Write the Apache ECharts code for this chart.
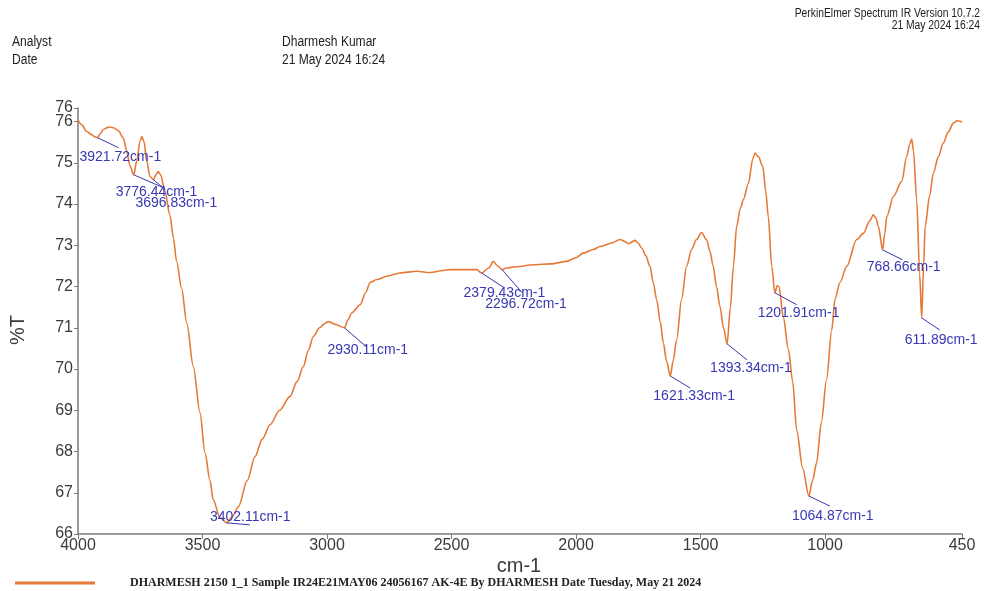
<!DOCTYPE html>
<html>
<head>
<meta charset="utf-8">
<title>IR Spectrum</title>
<script src="https://cdn.jsdelivr.net/npm/echarts@6/dist/echarts.min.js"></script>
<style>
  html, body { margin: 0; padding: 0; background: #fff; }
  #chart { width: 985px; height: 591px; }
</style>
</head>
<body>
<div id="chart"></div>
<script>
// Spectrum trace: wavenumber (cm-1) and transmittance (%T)
const wavenumbers = [
  4000, 3985, 3965, 3945, 3932, 3921.72, 3912, 3898, 3880, 3871, 3858, 3838, 3818, 3804, 3791,
  3776.44, 3764, 3751, 3744, 3735, 3724, 3711, 3696.83, 3686, 3678, 3668, 3651, 3631, 3617, 3604,
  3584, 3563, 3537, 3510, 3490, 3470, 3457, 3430, 3402.11, 3380, 3356, 3320, 3289, 3260, 3229,
  3190, 3149, 3120, 3095, 3075, 3055, 3030, 3010, 2995, 2965, 2930.11, 2915, 2901, 2867, 2845,
  2827, 2800, 2760, 2707, 2640, 2586, 2533, 2506, 2439, 2399, 2379.43, 2350, 2332, 2315, 2296.72,
  2280, 2240, 2171, 2100, 2038, 2000, 1971, 1930, 1904, 1860, 1823, 1800, 1790, 1763, 1750,
  1736, 1720, 1703, 1690, 1676, 1662, 1649, 1637, 1621.33, 1610, 1596, 1576, 1556, 1536, 1516,
  1496, 1476, 1462, 1449, 1436, 1422, 1408, 1393.34, 1380, 1368, 1355, 1340, 1328, 1308, 1290,
  1281, 1268, 1250, 1238, 1228, 1214, 1201.91, 1192, 1185, 1168, 1147, 1130, 1114, 1090, 1064.87,
  1050, 1034, 1015, 994, 973, 960, 940, 913, 873, 846, 820, 806, 795, 786, 768.66,
  760, 752, 725, 692, 672, 660, 652, 645, 632, 620, 611.89, 604, 598, 580, 565,
  545, 525, 505, 484, 470, 458, 450
];
const transmittance = [
  76.04, 75.92, 75.76, 75.68, 75.63, 75.61, 75.70, 75.81, 75.86, 75.87, 75.85, 75.78, 75.60, 75.28, 74.92,
  74.71, 75.04, 75.52, 75.64, 75.52, 75.04, 74.67, 74.59, 74.72, 74.79, 74.71, 74.31, 73.74, 73.18, 72.61,
  71.96, 71.11, 70.06, 68.94, 67.97, 67.30, 66.83, 66.40, 66.27, 66.42, 66.66, 67.30, 67.88, 68.30, 68.65,
  69.00, 69.33, 69.70, 70.06, 70.45, 70.79, 71.00, 71.10, 71.15, 71.08, 71.00, 71.20, 71.36, 71.56, 71.85,
  72.10, 72.17, 72.25, 72.33, 72.37, 72.34, 72.39, 72.41, 72.41, 72.41, 72.33, 72.45, 72.61, 72.50, 72.41,
  72.45, 72.48, 72.53, 72.55, 72.61, 72.70, 72.81, 72.90, 72.97, 73.05, 73.14, 73.08, 73.04, 73.12, 73.05,
  72.93, 72.75, 72.49, 72.10, 71.68, 71.15, 70.63, 70.20, 69.83, 70.20, 70.71, 71.70, 72.49, 72.90, 73.14,
  73.31, 73.14, 72.85, 72.49, 72.00, 71.52, 71.00, 70.61, 71.50, 72.49, 73.46, 73.90, 74.11, 74.50, 75.10,
  75.24, 75.15, 74.92, 74.30, 73.70, 72.50, 71.85, 72.02, 72.00, 71.27, 70.47, 69.70, 68.52, 67.60, 66.92,
  67.30, 67.72, 68.70, 69.74, 70.95, 71.70, 72.10, 72.49, 73.14, 73.29, 73.60, 73.74, 73.65, 73.46, 72.89,
  73.30, 73.70, 74.19, 74.55, 75.16, 75.45, 75.58, 75.30, 74.11, 72.30, 71.24, 72.50, 73.46, 74.20, 74.75,
  75.15, 75.48, 75.75, 75.97, 76.02, 76.01, 75.99
];

// Picked peaks
const peakWavenumbers = [3921.72, 3776.44, 3696.83, 3402.11, 2930.11, 2379.43, 2296.72,
  1621.33, 1393.34, 1201.91, 1064.87, 768.66, 611.89];
const peakTransmittance = [75.61, 74.71, 74.59, 66.27, 71.00, 72.33, 72.41,
  69.83, 70.61, 71.85, 66.92, 72.89, 71.24];

// Axis ticks; the %T scale runs to 76.33, whose tick is labelled "76" as well
const xTicks = [4000, 3500, 3000, 2500, 2000, 1500, 1000, 450];
const yTicks = [66, 67, 68, 69, 70, 71, 72, 73, 74, 75, 76];
const yMin = 66;
const yMax = 76.33;

const seriesName = 'DHARMESH 2150 1_1 Sample IR24E21MAY06 24056167 AK-4E By DHARMESH Date Tuesday, May 21 2024';

// Leader line end (lx, ly) and label start (tx, ty) relative to each peak, in pixels
const labelPlacement = [
  { lx: 21, ly: 10, tx: -18, ty: 19 },
  { lx: 30, ly: 13, tx: -18, ty: 17 },
  { lx: 12, ly: 10, tx: -18, ty: 23 },
  { lx: 23, ly: 2,  tx: -17, ty: -6 },
  { lx: 22, ly: 19, tx: -17, ty: 22 },
  { lx: 23, ly: 15, tx: -18, ty: 20 },
  { lx: 20, ly: 23, tx: -17, ty: 34 },
  { lx: 20, ly: 12, tx: -17, ty: 20 },
  { lx: 20, ly: 16, tx: -17, ty: 24 },
  { lx: 22, ly: 12, tx: -17, ty: 20 },
  { lx: 21, ly: 10, tx: -17, ty: 20 },
  { lx: 20, ly: 10, tx: -16, ty: 17 },
  { lx: 18, ly: 12, tx: -17, ty: 22 }
];

const traceColor = '#E57A38';
const peakColor = '#3838B4';
const axisColor = '#7a7a7a';
const textColor = '#3a3a3a';
const sansFont = '"Liberation Sans", Arial, sans-serif';

// Condensed header text (horizontally squeezed sans)
function headerText(x, y, text, size, align) {
  return {
    type: 'text',
    x: x,
    y: y,
    scaleX: 0.86,
    style: { text: text, font: size + 'px ' + sansFont, fill: '#222', align: align, verticalAlign: 'middle' }
  };
}

const yLabelStyle = {
  color: textColor,
  fontSize: 16,
  fontFamily: sansFont,
  margin: 5,
  showMinLabel: true,
  showMaxLabel: true,
  formatter: v => String(Math.round(v))
};

const chart = echarts.init(document.getElementById('chart'), null, { renderer: 'canvas' });

const option = {
  animation: false,
  backgroundColor: '#ffffff',
  grid: { left: 78, right: 23, top: 108, bottom: 57, containLabel: false },
  legend: {
    data: [seriesName],
    left: 10,
    top: 572,
    icon: 'rect',
    itemWidth: 80,
    itemHeight: 3,
    textStyle: {
      fontFamily: '"Liberation Serif", "DejaVu Serif", serif',
      fontWeight: 'bold',
      fontSize: 12,
      color: '#222',
      padding: [0, 0, 0, 30]
    }
  },
  xAxis: {
    type: 'value',
    inverse: true,
    min: 450,
    max: 4000,
    splitLine: { show: false },
    axisLine: { show: true, lineStyle: { color: axisColor, width: 1.5 } },
    axisTick: { show: true, length: 5, customValues: xTicks, lineStyle: { color: axisColor } },
    axisLabel: {
      customValues: xTicks,
      color: textColor,
      fontSize: 16,
      fontFamily: sansFont,
      margin: 4,
      showMinLabel: true,
      showMaxLabel: true,
      formatter: v => String(v)
    }
  },
  yAxis: [
    {
      type: 'value',
      min: yMin,
      max: yMax,
      splitLine: { show: false },
      axisLine: { show: true, lineStyle: { color: axisColor, width: 1.5 } },
      axisTick: { show: true, length: 4, customValues: yTicks, lineStyle: { color: axisColor } },
      axisLabel: Object.assign({ customValues: yTicks }, yLabelStyle)
    },
    {
      // end-of-scale tick and label at the top of the %T axis
      type: 'value',
      position: 'left',
      min: yMin,
      max: yMax,
      splitLine: { show: false },
      axisLine: { show: false },
      axisTick: { show: true, length: 4, customValues: [yMax], lineStyle: { color: axisColor } },
      axisLabel: Object.assign({ customValues: [yMax] }, yLabelStyle)
    }
  ],
  graphic: [
    headerText(980, 14, 'PerkinElmer Spectrum IR Version 10.7.2', 12, 'right'),
    headerText(980, 26, '21 May 2024 16:24', 12, 'right'),
    headerText(12, 42, 'Analyst', 14, 'left'),
    headerText(12, 60, 'Date', 14, 'left'),
    headerText(282, 42, 'Dharmesh Kumar', 14, 'left'),
    headerText(282, 60, '21 May 2024 16:24', 14, 'left'),
    { type: 'text', x: 519, y: 566, style: { text: 'cm-1', font: '20px ' + sansFont, fill: textColor, align: 'center', verticalAlign: 'middle' } },
    { type: 'text', x: 18, y: 330, rotation: Math.PI / 2, style: { text: '%T', font: '20px ' + sansFont, fill: textColor, align: 'center', verticalAlign: 'middle' } }
  ],
  series: [
    {
      name: seriesName,
      type: 'line',
      yAxisIndex: 0,
      data: wavenumbers.map((w, i) => [w, transmittance[i]]),
      showSymbol: false,
      smooth: 0.3,
      smoothMonotone: 'x',
      lineStyle: { color: traceColor, width: 1.6 },
      itemStyle: { color: traceColor },
      z: 3
    },
    {
      name: 'peaks',
      type: 'custom',
      yAxisIndex: 0,
      data: peakWavenumbers.map((w, i) => [w, peakTransmittance[i]]),
      encode: { x: 0, y: 1 },
      z: 5,
      renderItem: function (params, api) {
        const p = api.coord([api.value(0), api.value(1)]);
        const o = labelPlacement[params.dataIndex];
        const w = peakWavenumbers[params.dataIndex];
        return {
          type: 'group',
          children: [
            {
              type: 'line',
              shape: { x1: p[0], y1: p[1], x2: p[0] + o.lx, y2: p[1] + o.ly },
              style: { stroke: peakColor, lineWidth: 1 }
            },
            {
              type: 'text',
              x: p[0] + o.tx,
              y: p[1] + o.ty,
              style: {
                text: w.toFixed(2) + 'cm-1',
                fill: peakColor,
                font: '14px ' + sansFont,
                align: 'left',
                verticalAlign: 'middle'
              }
            }
          ]
        };
      }
    }
  ]
};

chart.setOption(option);
</script>
</body>
</html>
